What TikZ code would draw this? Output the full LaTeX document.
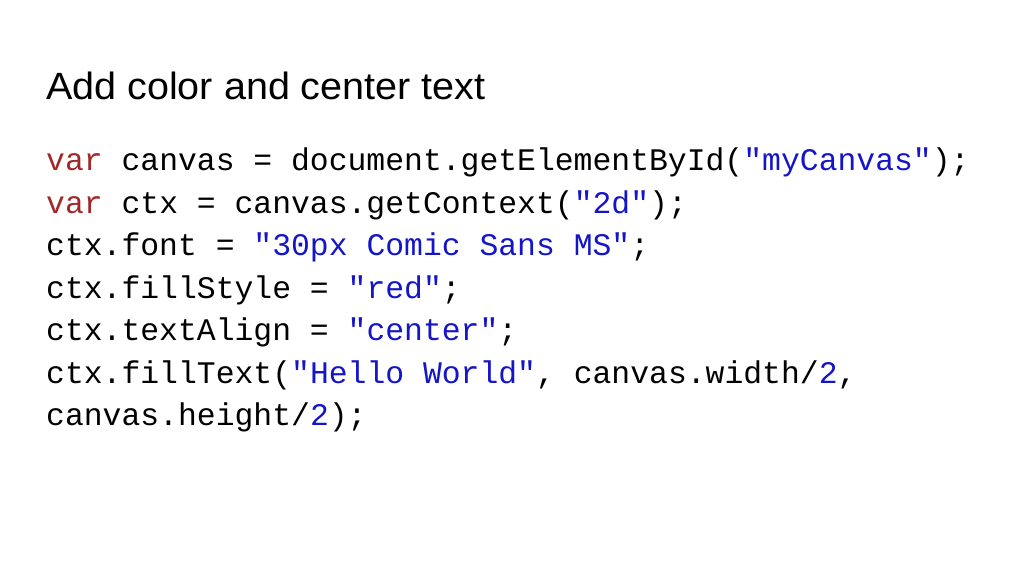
\documentclass[tikz,border=0pt]{standalone}
\usepackage{fontspec}
\setmainfont{Liberation Sans}
\newfontfamily\codefont{Liberation Mono}
\definecolor{kw}{RGB}{160,40,40}
\definecolor{st}{RGB}{20,20,200}
\newcommand{\K}[1]{\textcolor{kw}{#1}}
\newcommand{\Sx}[1]{\textcolor{st}{#1}}
\begin{document}
\begin{tikzpicture}[x=1pt,y=-1pt,
  code/.style={anchor=base west,inner sep=0pt,font=\codefont\fontsize{31.4}{34}\selectfont}]
\useasboundingbox (0,0) rectangle (1024,576);
\node[anchor=base west,inner sep=0pt,font=\fontsize{38}{42}\selectfont] (title) at (46,99) {\addfontfeature{FakeStretch=1.04}Add color and center text};
\node[code] (l1) at (46,170) {\K{var} canvas = document.getElementById(\Sx{"myCanvas"});};
\node[code] (l2) at (46,213) {\K{var} ctx = canvas.getContext(\Sx{"2d"});};
\node[code] (l3) at (46,255) {ctx.font = \Sx{"30px Comic Sans MS"};};
\node[code] (l4) at (46,298) {ctx.fillStyle = \Sx{"red"};};
\node[code] (l5) at (46,340) {ctx.textAlign = \Sx{"center"};};
\node[code] (l6) at (46,383) {ctx.fillText(\Sx{"Hello World"}, canvas.width/\Sx{2},};
\node[code] (l7) at (46,425) {canvas.height/\Sx{2});};
\end{tikzpicture}
\end{document}
